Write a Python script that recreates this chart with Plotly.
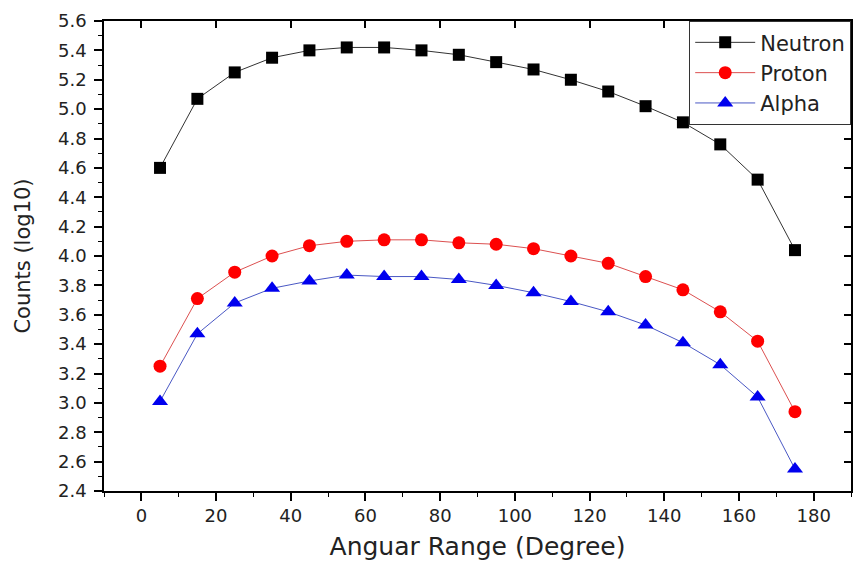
import plotly.graph_objects as go

angles = [5, 15, 25, 35, 45, 55, 65, 75, 85, 95, 105, 115, 125, 135, 145, 155, 165, 175]
neutron = [4.60, 5.07, 5.25, 5.35, 5.40, 5.42, 5.42, 5.40, 5.37, 5.32, 5.27, 5.20, 5.12, 5.02, 4.91, 4.76, 4.52, 4.04]
proton = [3.25, 3.71, 3.89, 4.00, 4.07, 4.10, 4.11, 4.11, 4.09, 4.08, 4.05, 4.00, 3.95, 3.86, 3.77, 3.62, 3.42, 2.94]
alpha = [3.01, 3.47, 3.68, 3.78, 3.83, 3.87, 3.86, 3.86, 3.84, 3.80, 3.75, 3.69, 3.62, 3.53, 3.41, 3.26, 3.04, 2.55]

FONT = "DejaVu Sans, Liberation Sans, Arial, sans-serif"

fig = go.Figure()
fig.add_trace(go.Scatter(x=angles, y=neutron, name="Neutron", mode="lines+markers",
                         line=dict(color="#333333", width=1),
                         marker=dict(symbol="square", size=12, color="black")))
fig.add_trace(go.Scatter(x=angles, y=proton, name="Proton", mode="lines+markers",
                         line=dict(color="#dc5050", width=1),
                         marker=dict(symbol="circle", size=13, color="#ff0000")))
fig.add_trace(go.Scatter(x=angles, y=alpha, name="Alpha", mode="lines+markers",
                         line=dict(color="#4a58c4", width=1),
                         marker=dict(symbol="triangle-up", size=14, color="#0000ee")))

axis_common = dict(showgrid=False, zeroline=False, linecolor="black", linewidth=1.5,
                   tickcolor="black", tickwidth=1.5, ticklen=8,
                   tickfont=dict(family=FONT, size=18, color="#222222"))

fig.update_layout(
    width=859, height=571,
    margin=dict(l=104, r=8, t=21, b=80),
    plot_bgcolor="white", paper_bgcolor="white",
    font=dict(family=FONT, color="#222222"),
    xaxis=dict(range=[-10, 190], tickmode="linear", tick0=0, dtick=20, ticks="outside",
               minor=dict(dtick=10, tick0=0, ticks="outside", ticklen=4, tickcolor="black", tickwidth=1.2),
               title=dict(text="Anguar Range (Degree)", font=dict(family=FONT, size=25), standoff=12),
               **axis_common),
    yaxis=dict(range=[2.4, 5.6], tickmode="linear", tick0=2.4, dtick=0.2, ticks="outside",
               tickformat=".1f", ticklabelstandoff=4,
               minor=dict(dtick=0.1, tick0=2.4, ticks="outside", ticklen=4, tickcolor="black", tickwidth=1.2),
               title=dict(text="Counts (log10)", font=dict(family=FONT, size=21), standoff=22),
               **axis_common),
    xaxis2=dict(range=[-10, 190], overlaying="x", side="top", anchor="y", matches="x",
                tickmode="linear", tick0=0, dtick=20, ticks="inside", showticklabels=False,
                showline=True, showgrid=False, zeroline=False, linecolor="black", linewidth=1.5,
                tickcolor="black", tickwidth=1.5, ticklen=7),
    yaxis2=dict(range=[2.4, 5.6], overlaying="y", side="right", anchor="x", matches="y",
                tickmode="linear", tick0=2.4, dtick=0.2, ticks="inside", showticklabels=False,
                showline=True, showgrid=False, zeroline=False, linecolor="black", linewidth=1.5,
                tickcolor="black", tickwidth=1.5, ticklen=7),
    legend=dict(x=1, y=1, xanchor="right", yanchor="top",
                bordercolor="#333333", borderwidth=1.2, bgcolor="white",
                font=dict(family=FONT, size=21, color="#222222"),
                itemwidth=60, tracegroupgap=0),
)
fig.add_trace(go.Scatter(x=[None], y=[None], xaxis="x2", yaxis="y2", showlegend=False, hoverinfo="skip"))

fig.write_html("out.html", config={"displayModeBar": False},
               post_script="document.body.style.margin='0';")
